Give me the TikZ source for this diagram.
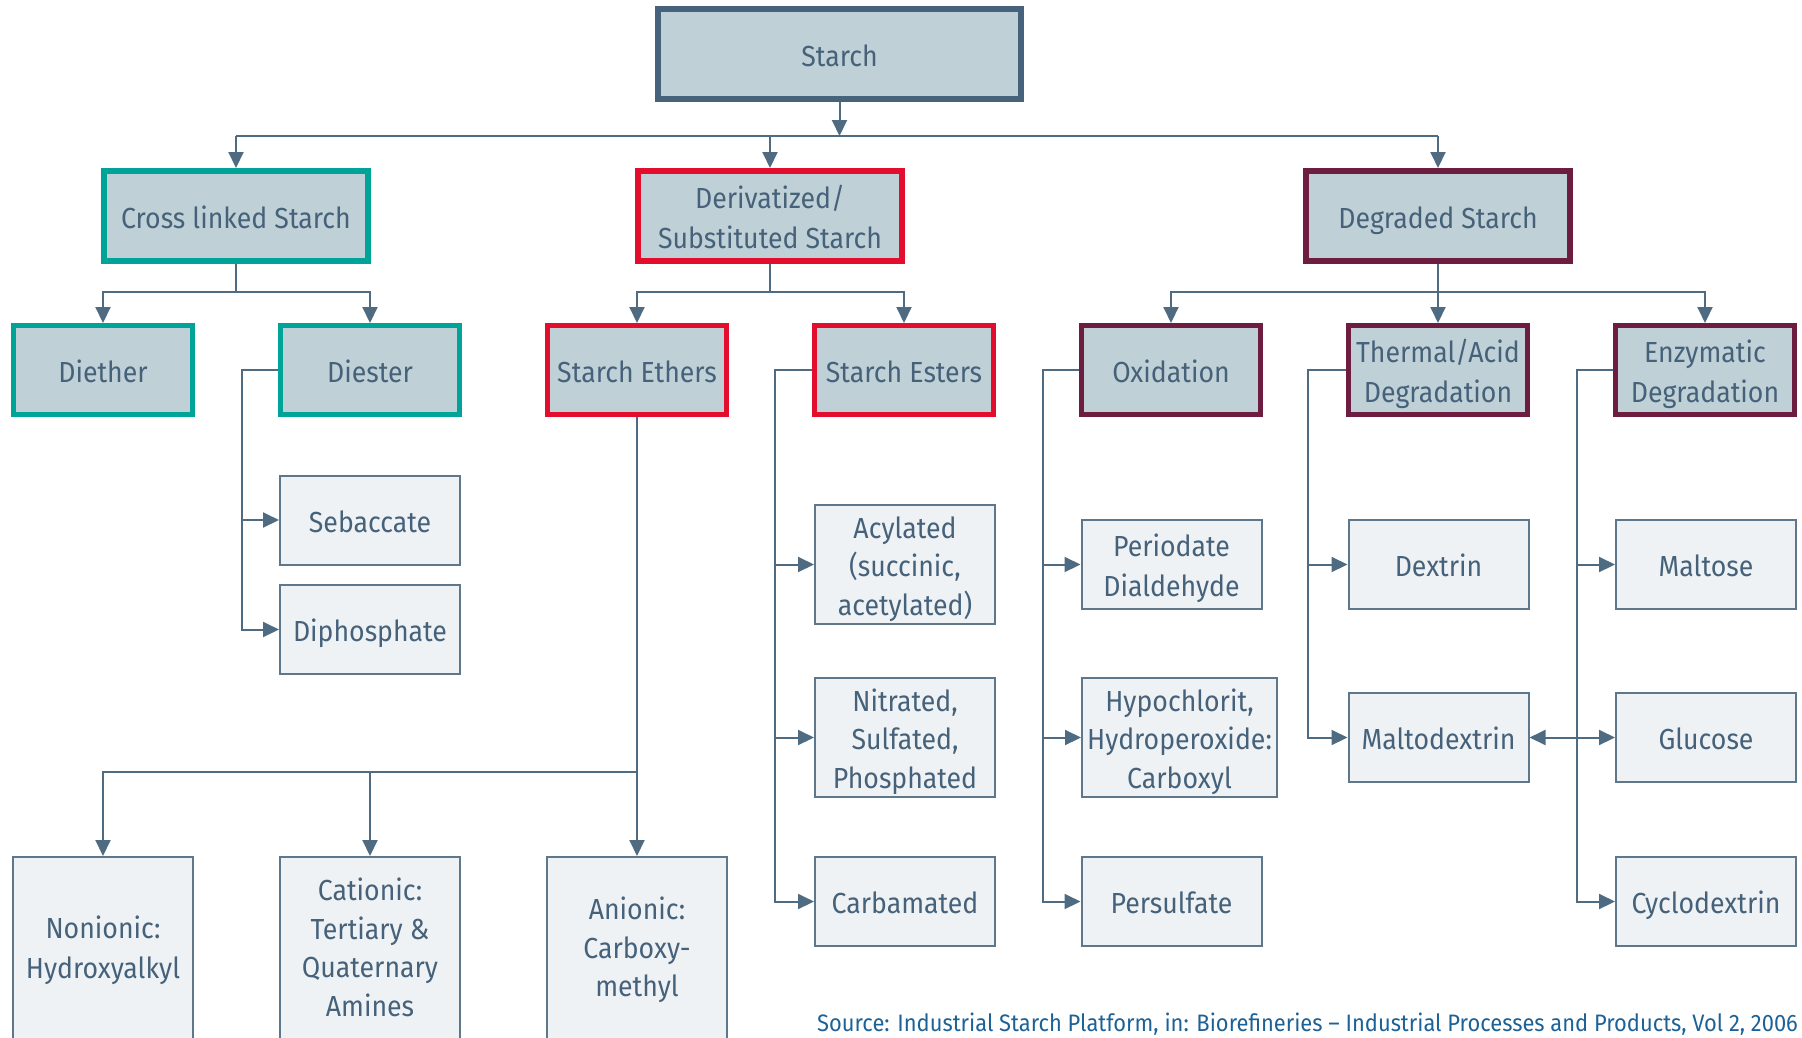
\documentclass[tikz,border=0pt]{standalone}
\usepackage{fontspec}
\setmainfont{Fira Sans}[FakeStretch=0.92]
\usetikzlibrary{arrows.meta}

\definecolor{ink}{HTML}{46627A}
\definecolor{wire}{HTML}{4E6B81}
\definecolor{steelbd}{HTML}{46637B}
\definecolor{tealbd}{HTML}{00A398}
\definecolor{redbd}{HTML}{E30D2D}
\definecolor{maroonbd}{HTML}{6D1D40}
\definecolor{headfill}{HTML}{BFD0D7}
\definecolor{leaffill}{HTML}{EEF2F5}
\definecolor{leafline}{HTML}{5F778A}
\definecolor{srcblue}{HTML}{1D6296}

% fixed first-line height and last-line depth, so every label sits alike
\newcommand\labelstrut{\rule[-7.5pt]{0pt}{39pt}}
\newcommand\lbl[1]{\labelstrut#1\labelstrut}

\tikzset{
  box/.style={rectangle, inner sep=0pt, align=center, text=ink,
    font=\fontsize{29}{38.5}\selectfont},
  head/.style={box, fill=headfill, line width=6pt,
    minimum width=264pt, minimum height=90pt},
  sub/.style={box, fill=headfill, line width=5pt,
    minimum width=179pt, minimum height=89pt},
  leaf/.style={box, fill=leaffill, draw=leafline, line width=2pt,
    minimum width=180pt, minimum height=89pt},
  tall/.style={leaf, minimum height=119pt},
  deep/.style={leaf, anchor=north, minimum height=260pt},
  caption/.style={box},
  link/.style={draw=wire, line width=2pt},
  tip/.tip={Triangle[length=16pt, width=15pt]},
  arr/.style={link, -tip},
}

\begin{document}
\begin{tikzpicture}[x=1pt, y=-1pt]
\useasboundingbox (0,0) rectangle (1802,1037);
\clip (0,0) rectangle (1802,1037);

% root and first level
\node[head, draw=steelbd, minimum width=363pt] (starch) at (839.5,54) {\lbl{Starch}};
\node[head, draw=tealbd]   (cross) at (236,216)  {\lbl{Cross linked Starch}};
\node[head, draw=redbd]    (deriv) at (770,216)  {\lbl{Derivatized/\\Substituted Starch}};
\node[head, draw=maroonbd] (degr)  at (1438,216) {\lbl{Degraded Starch}};

% second level
\node[sub, draw=tealbd]   (diether) at (103,370)  {\lbl{Diether}};
\node[sub, draw=tealbd]   (diester) at (370,370)  {\lbl{Diester}};
\node[sub, draw=redbd]    (ethers)  at (637,370)  {\lbl{Starch Ethers}};
\node[sub, draw=redbd]    (esters)  at (904,370)  {\lbl{Starch Esters}};
\node[sub, draw=maroonbd] (oxid)    at (1171,370) {\lbl{Oxidation}};
\node[sub, draw=maroonbd] (thermal) at (1438,370) {\lbl{Thermal/Acid\\Degradation}};
\node[sub, draw=maroonbd] (enzym)   at (1705,370) {\lbl{Enzymatic\\Degradation}};

% diester products
\node[leaf] (sebac) at (370,520)   {\lbl{Sebaccate}};
\node[leaf] (dipho) at (370,629.5) {\lbl{Diphosphate}};

% ester products
\node[tall] (acyl)  at (905,564.5) {\lbl{Acylated\\(succinic,\\acetylated)}};
\node[tall] (nitr)  at (905,737.5) {\lbl{Nitrated,\\Sulfated,\\Phosphated}};
\node[leaf] (carb)  at (905,901.5) {\lbl{Carbamated}};

% oxidation products
\node[leaf] (perio) at (1171.5,564.5) {\lbl{Periodate\\Dialdehyde}};
\node[tall, minimum width=195pt] (hypo) at (1179.5,737.5) {\lbl{Hypochlorit,\\Hydroperoxide:\\Carboxyl}};
\node[leaf] (persul) at (1171.5,901.5) {\lbl{Persulfate}};

% thermal / acid products
\node[leaf] (dextr)  at (1438.5,564.5) {\lbl{Dextrin}};
\node[leaf] (maltod) at (1438.5,737.5) {\lbl{Maltodextrin}};

% enzymatic products
\node[leaf] (maltose) at (1706,564.5) {\lbl{Maltose}};
\node[leaf] (gluc)    at (1706,737.5) {\lbl{Glucose}};
\node[leaf] (cyclo)   at (1706,901.5) {\lbl{Cyclodextrin}};

% ether products (boxes run past the lower edge)
\node[deep] (nonion) at (103,856) {};
\node[deep] (cation) at (370,856) {};
\node[deep] (anion)  at (637,856) {};
\node[caption] (nonionT) at (103,946) {\lbl{Nonionic:\\Hydroxyalkyl}};
\node[caption] (cationT) at (370,946.5) {\lbl{Cationic:\\Tertiary \&\\Quaternary\\Amines}};
\node[caption] (anionT)  at (637,946) {\lbl{Anionic:\\Carboxy-\\methyl}};

% root to first level
\coordinate (busR) at (0,136);
\draw[arr] (starch.south) -- (starch.south |- busR);
\draw[link] (cross.north |- busR) -- (degr.north |- busR);
\draw[arr] (cross.north |- busR) -- (cross.north);
\draw[arr] (deriv.north |- busR) -- (deriv.north);
\draw[arr] (degr.north |- busR) -- (degr.north);

% first level to second level
\coordinate (busS) at (0,292);
\draw[link] (cross.south) -- (cross.south |- busS);
\draw[arr] (cross.south |- busS) -| (diester.north);
\draw[arr] (cross.south |- busS) -| (diether.north);
\draw[link] (deriv.south) -- (deriv.south |- busS);
\draw[arr] (deriv.south |- busS) -| (ethers.north);
\draw[arr] (deriv.south |- busS) -| (esters.north);
\draw[arr] (degr.south) -- (thermal.north);
\draw[arr] (degr.south |- busS) -| (oxid.north);
\draw[arr] (degr.south |- busS) -| (enzym.north);

% diester branch
\path (diester.west) ++(-36,0) coordinate (dsx);
\draw[arr] (diester.west) -- (dsx) |- (dipho.west);
\draw[arr] (dsx |- sebac.west) -- (sebac.west);

% ester branch
\path (esters.west) ++(-37,0) coordinate (esx);
\draw[arr] (esters.west) -- (esx) |- (carb.west);
\draw[arr] (esx |- acyl.west) -- (acyl.west);
\draw[arr] (esx |- nitr.west) -- (nitr.west);

% oxidation branch
\path (oxid.west) ++(-36,0) coordinate (osx);
\draw[arr] (oxid.west) -- (osx) |- (persul.west);
\draw[arr] (osx |- perio.west) -- (perio.west);
\draw[arr] (osx |- hypo.west) -- (hypo.west);

% thermal / acid branch
\path (thermal.west) ++(-38,0) coordinate (tsx);
\draw[arr] (thermal.west) -- (tsx) |- (maltod.west);
\draw[arr] (tsx |- dextr.west) -- (dextr.west);

% enzymatic branch
\path (enzym.west) ++(-36,0) coordinate (zsx);
\draw[arr] (enzym.west) -- (zsx) |- (cyclo.west);
\draw[arr] (zsx |- maltose.west) -- (maltose.west);
\draw[link, tip-tip] (maltod.east) -- (gluc.west);

% ether branch
\coordinate (busE) at (0,772);
\draw[arr] (ethers.south) -- (anion.north);
\draw[arr] (ethers.south |- busE) -| (nonion.north);
\draw[arr] (cation.north |- busE) -- (cation.north);

% source line
\node[anchor=base west, inner sep=0pt, text=srcblue,
  font=\fontsize{23.8}{28}\selectfont] (src) at (817,1031)
  {Source: Industrial Starch Platform, in: Biorefineries – Industrial Processes and Products, Vol 2, 2006};
\end{tikzpicture}
\end{document}
